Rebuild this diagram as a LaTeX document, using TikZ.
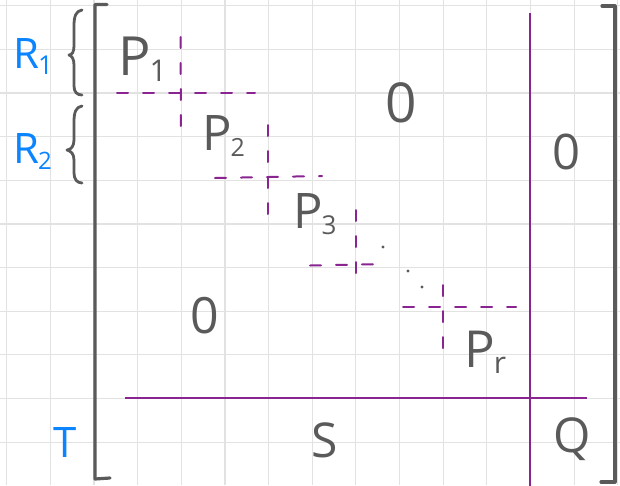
\documentclass[tikz,border=0pt]{standalone}
\usepackage{fontspec}
\setmainfont{Open Sans}
\newcommand\fsz[1]{\fontsize{#1}{#1}\selectfont}
\newcommand\lowsub[1]{\kern-1pt\raisebox{-6pt}{\fsz{30}#1}}
\definecolor{gridgray}{HTML}{E2E2E2}
\definecolor{ink}{HTML}{5A5A5A}
\definecolor{partpurple}{HTML}{8A2491}
\definecolor{skyblue}{HTML}{0A84FF}
\tikzset{
  sheetgrid/.style={draw=gridgray, line width=1.1pt},
  bracketline/.style={draw=ink, line width=3.2pt, line cap=round, line join=round},
  bracestroke/.style={draw=ink, line width=2.8pt, line cap=round, line join=round},
  partline/.style={draw=partpurple, line width=2pt},
  blockedge/.style={draw=partpurple, line width=2pt, line cap=round, dash pattern=on 11pt off 15pt},
  lbl/.style={inner sep=0pt, text=ink, font=\fsz{50}},
  rowlbl/.style={inner sep=0pt, text=skyblue, font=\fsz{42}},
  gap/.style={fill=ink, circle, inner sep=0pt, minimum size=3.4pt}
}
\begin{document}
\begin{tikzpicture}[x=1pt, y=-1pt]
\useasboundingbox (0,0) rectangle (620,485);
\fill[white] (0,0) rectangle (620,485);

% squared paper
\foreach \k in {0,...,14} \draw[sheetgrid] ({6.7+43.65*\k},0) -- ({6.7+43.65*\k},485);
\foreach \k in {0,...,10} \draw[sheetgrid] (0,{5.7+43.65*\k}) -- (620,{5.7+43.65*\k});

% matrix brackets
\draw[bracketline] (107,4.5) -- (95,4.5) -- (95,479) -- (110,478);
\draw[bracketline] (602,6) -- (615,6) -- (615,482) -- (601,482);

% row-group braces
\draw[bracestroke] (82,10) .. controls (76,11) and (74,16) .. (74,26) -- (74,46)
  .. controls (74,52) and (72,55) .. (69,55) .. controls (72,56) and (74,59) .. (74,65)
  -- (74,86) .. controls (74,92) and (77,95) .. (82,95);
\draw[bracestroke] (82,106) .. controls (76,107) and (74,112) .. (74,122) -- (74,140)
  .. controls (74,146) and (71,150) .. (67,150) .. controls (71,151) and (74,154) .. (74,160)
  -- (74,173) .. controls (74,179) and (77,183) .. (82,183);

% row labels
\node[rowlbl, anchor=base west] (r1) at (13,68) {R\lowsub{\fsz{26}1}};
\node[rowlbl, anchor=base west] (r2) at (13,163) {R\lowsub{\fsz{24}2}};
\node[rowlbl, anchor=base] (tl) at (65,457) {T};

% partition lines
\draw[partline] (529.5,13) -- (529.5,486);
\draw[partline] (125,397.5) -- (587,397.5);

% diagonal blocks
\draw[blockedge] (180.5,37) -- (181,140);
\draw[blockedge] (117,92.5) -- (255,92.5);
\draw[blockedge] (268,125) -- (268,222);
\draw[blockedge] (215,178) -- (322,176);
\draw[blockedge] (356,210) -- (356,273);
\draw[blockedge] (310,265.5) -- (385,264);
\draw[blockedge] (443,285) -- (443,348);
\draw[blockedge] (403,307) -- (516,307);

\node[gap] (d1) at (383,247) {};
\node[gap] (d2) at (408,271) {};
\node[gap] (d3) at (422,287) {};

% block names
\node[lbl, font=\fsz{54}, anchor=base west] (p1) at (118,75) {P\lowsub{1}};
\node[lbl, font=\fsz{49}, anchor=base west] (p2) at (202,150) {P\lowsub{\fsz{25}2}};
\node[lbl, font=\fsz{49}, anchor=base west] (p3) at (293,228) {P\lowsub{\fsz{26}3}};
\node[lbl, font=\fsz{51}, anchor=base west] (pr) at (464,367) {P\lowsub{\fsz{30}r}};

% zero blocks and remaining parts
\node[lbl, font=\fsz{55}, anchor=base] (zu) at (401,122) {0};
\node[lbl, font=\fsz{49}, anchor=base] (zr) at (566,169) {0};
\node[lbl, font=\fsz{50}, anchor=base] (zl) at (205,333) {0};
\node[lbl, font=\fsz{48}, anchor=base] (s) at (325,457) {S};
\node[lbl, font=\fsz{48}, anchor=base] (q) at (572,452) {Q};
\end{tikzpicture}
\end{document}
